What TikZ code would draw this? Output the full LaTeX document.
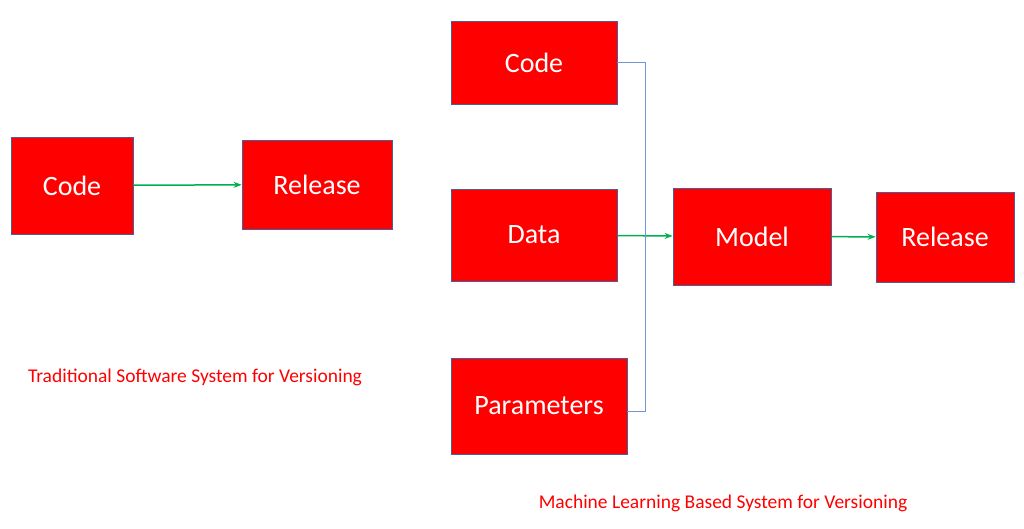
\documentclass[tikz,border=0pt]{standalone}
\usepackage{fontspec}
\setmainfont{Carlito}
\usetikzlibrary{positioning,calc,arrows.meta}

\definecolor{boxred}{HTML}{FF0000}
\definecolor{boxedge}{HTML}{4A5E9A}
\definecolor{arrgreen}{HTML}{00B050}
\definecolor{brkblue}{HTML}{7294D8}

\begin{document}
\begin{tikzpicture}[->,>={Stealth[length=8pt,width=6pt]},x=1pt,y=-1pt,thick,
    box/.style={rectangle,draw=boxedge,line width=0.8pt,fill=boxred,text=white,inner sep=0pt,font=\fontsize{28}{32}\selectfont},
    flow/.style={color=arrgreen,line width=1.5pt},
    brk/.style={-,color=brkblue,line width=1pt},
    caption/.style={text=boxred,font=\fontsize{19.5}{22}\selectfont}]

                \useasboundingbox (0,0) rectangle (1024,529);

                % traditional
                \node[box, minimum width=122, minimum height=97] (code1) at (72,185.5) {Code};
                \node[box, minimum width=150, minimum height=89] (rel1) at (317,184.5) {Release};
                \node[caption] (cap1) at (195,377) {Traditional Software System for Versioning};

                % machine learning
                \node[box, minimum width=166, minimum height=83] (code2) at (534,62.5) {Code};
                \node[box, minimum width=166, minimum height=92] (data) at (534,235) {Data};
                \node[box, minimum width=176, minimum height=96] (par) at (539,406) {Parameters};
                \node[box, minimum width=158, minimum height=97] (model) at (752,236.5) {Model};
                \node[box, minimum width=138, minimum height=90] (rel2) at (945,237) {Release};
                \node[caption] (cap2) at (723,503) {Machine Learning Based System for Versioning};

                \coordinate (bt) at (645,63);
                \coordinate (bb) at (645,411);

                \draw[flow] (code1) -- (rel1);
                \draw[flow] (data) -- (model);
                \draw[flow] (model) -- (rel2);
                \draw[brk] (bt -| code2.east) -- (bt) -- (bb) -- (bb -| par.east);
            \end{tikzpicture}
\end{document}
